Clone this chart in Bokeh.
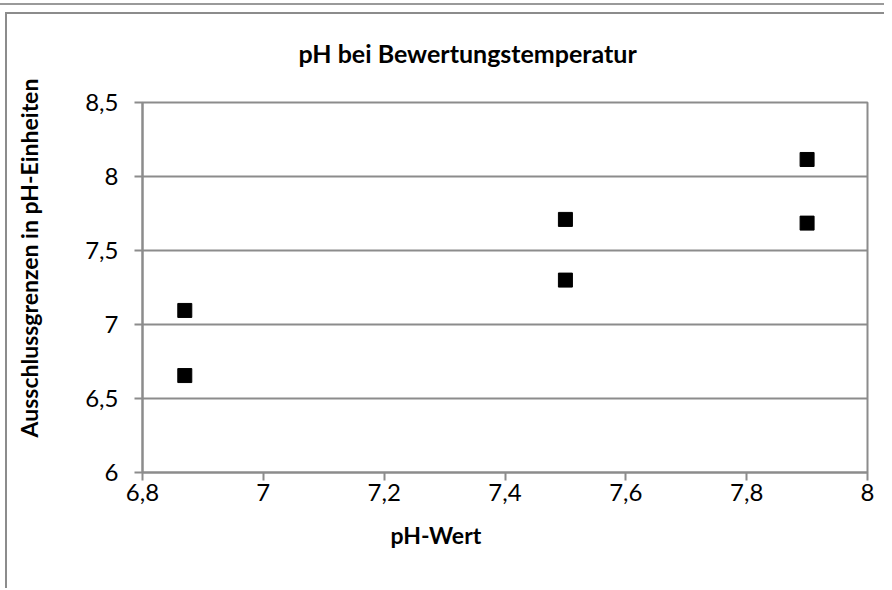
from bokeh.plotting import figure
from bokeh.models import FixedTicker, Range1d, CustomJSTickFormatter, Title
from bokeh.embed import file_html
from bokeh.resources import INLINE

# ---- data ----
x_vals = [6.87, 6.87, 7.5, 7.5, 7.9, 7.9]
y_vals = [7.095, 6.655, 7.71, 7.30, 8.115, 7.685]
x_ticks = [6.8, 7.0, 7.2, 7.4, 7.6, 7.8, 8.0]
x_tick_labels = ["6,8", "7", "7,2", "7,4", "7,6", "7,8", "8"]
y_ticks = [6.0, 6.5, 7.0, 7.5, 8.0, 8.5]
y_tick_labels = ["6", "6,5", "7", "7,5", "8", "8,5"]
title_text = "pH bei Bewertungstemperatur"
x_label = "pH-Wert"
y_label = "Ausschlussgrenzen in pH-Einheiten"

FONT = "Lato"
GRAY = "#8c8c8c"
LINE = "linear-gradient(%s, %s)" % (GRAY, GRAY)

p = figure(width=912, height=588, output_backend="svg", toolbar_location=None,
           x_range=Range1d(x_ticks[0], x_ticks[-1]), y_range=Range1d(y_ticks[0], y_ticks[-1]),
           min_border_left=170, min_border_right=17, min_border_top=102, min_border_bottom=116)
p.styles = {"margin-left": "-28px", "margin-top": "0px",
            "background": ("linear-gradient(#9a9a9a, #9a9a9a) 0px 3px / 100% 2px no-repeat, "
                           + LINE + " 33px 12px / 100% 2px no-repeat, "
                           + LINE + " 33px 12px / 2px 100% no-repeat, white")}

p.background_fill_color = "white"
p.border_fill_color = None
p.outline_line_color = GRAY
p.outline_line_width = 2

def fmt(tick_vals, tick_labels):
    return CustomJSTickFormatter(args=dict(tv=tick_vals, tl=tick_labels), code="""
        for (let i = 0; i < tv.length; i++) { if (Math.abs(tv[i] - tick) < 1e-9) return tl[i]; }
        return '';
    """)

for ax, ticks, labels in [(p.xaxis[0], x_ticks, x_tick_labels), (p.yaxis[0], y_ticks, y_tick_labels)]:
    ax.ticker = FixedTicker(ticks=ticks, minor_ticks=[])
    ax.formatter = fmt(ticks, labels)
    ax.axis_line_color = GRAY
    ax.axis_line_width = 2
    ax.major_tick_line_color = GRAY
    ax.major_tick_line_width = 2
    ax.major_tick_in = 0
    ax.major_tick_out = 8
    ax.minor_tick_line_color = None
    ax.major_label_text_font = FONT
    ax.major_label_text_font_size = "24px"
    ax.major_label_text_color = "black"

p.xaxis.major_label_standoff = 3
p.yaxis.major_label_standoff = 16
p.yaxis.major_label_orientation = "horizontal"

p.xgrid.grid_line_color = None
p.ygrid.ticker = FixedTicker(ticks=y_ticks)
p.ygrid.grid_line_color = GRAY
p.ygrid.grid_line_width = 2

p.scatter(x_vals, y_vals, marker="square", size=14, fill_color="black", line_color="black")

common = dict(text_font=FONT, text_font_style="bold", text_color="black", align="left")
p.add_layout(Title(text=title_text, text_font_size="25px", offset=156, standoff=69, **common), "above")
p.add_layout(Title(text=x_label, text_font_size="23px", offset=248, standoff=31, **common), "below")
p.add_layout(Title(text=y_label, text_font_size="23px", offset=35, standoff=79, **common), "left")

open("out.html", "w").write(file_html(p, INLINE))
